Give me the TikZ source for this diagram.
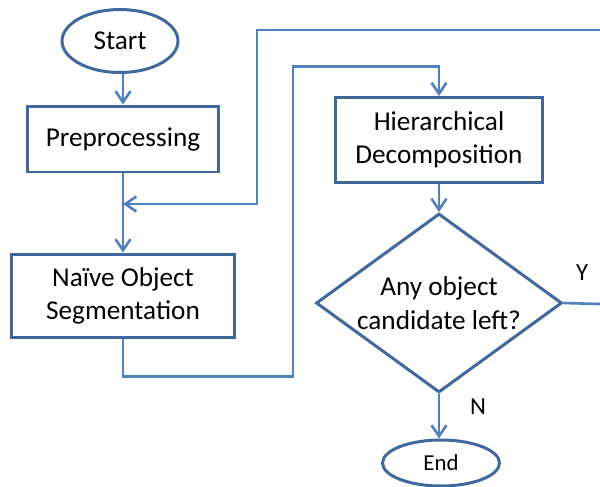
\documentclass[tikz,border=0pt]{standalone}
\usepackage{fontspec}
\setmainfont{Carlito}
\usetikzlibrary{shapes.geometric,arrows.meta}
\definecolor{boxblue}{HTML}{41689C}
\definecolor{lineblue}{HTML}{4F81BD}

\begin{document}
\begin{tikzpicture}[x=0.02cm, y=-0.02cm,
    stepbox/.style={draw=boxblue, line width=1.7pt, rectangle, align=center,
      font=\fontsize{15.5}{19}\selectfont},
    terminal/.style={draw=boxblue, line width=1.7pt, ellipse, inner sep=0pt},
    decision/.style={draw=boxblue, line width=1.7pt, diamond, shape aspect=1.374,
      align=center, inner sep=0pt, minimum width=4.92cm, minimum height=3.58cm,
      font=\fontsize{15.5}{19}\selectfont},
    flow/.style={draw=lineblue, line width=1.5pt,
      -{Straight Barb[length=2.2mm, width=3mm, line width=1.5pt]}},
    plain/.style={draw=lineblue, line width=1.5pt}]
            \useasboundingbox (0, 0) rectangle (600, 487);

              % Left column
              \node[terminal, minimum width=2.32cm, minimum height=1.26cm,
                font=\fontsize{15.5}{17}\selectfont] (start) at (120, 41) {Start};
              \node[stepbox, minimum width=3.82cm, minimum height=1.32cm] (prep) at (123, 139) {Preprocessing};
              \node[stepbox, minimum width=4.46cm, minimum height=1.68cm] (naive) at (123, 296) {Naïve Object\\Segmentation};

              % Right column
              \node[stepbox, minimum width=4.16cm, minimum height=1.70cm] (hier) at (439, 140) {Hierarchical\\Decomposition};
              \node[decision] (cand) at (439, 303) {Any object\\candidate left?};
              \node[terminal, minimum width=2.34cm, minimum height=0.92cm,
                font=\fontsize{13}{15}\selectfont] (end) at (441, 463) {End};

              % Loose ends and merge point
              \coordinate (loopin) at (600, 30);
              \coordinate (merge) at (123, 204);
              \coordinate (yes) at (600, 304);

              \draw[flow] (start.south -| prep.north) -- (prep.north);
              \draw[flow] (prep.south) -- (naive.north);
              \draw[flow] (loopin) -- ++(-343, 0) |- (merge);
              \draw[flow] (naive.south) -- ++(0, 37) -| ++(170, -310) -| (hier.north);
              \draw[flow] (hier.south) -- (cand.north);
              \draw[plain] (cand.east) -- (yes);
              \draw[flow] (cand.south) -- (end.north -| cand.south);

              % Branch labels
              \node[font=\fontsize{14}{16}\selectfont] (ylab) at (582, 273) {Y};
              \node[font=\fontsize{14}{16}\selectfont] (nlab) at (478, 407) {N};
          \end{tikzpicture}
\end{document}
